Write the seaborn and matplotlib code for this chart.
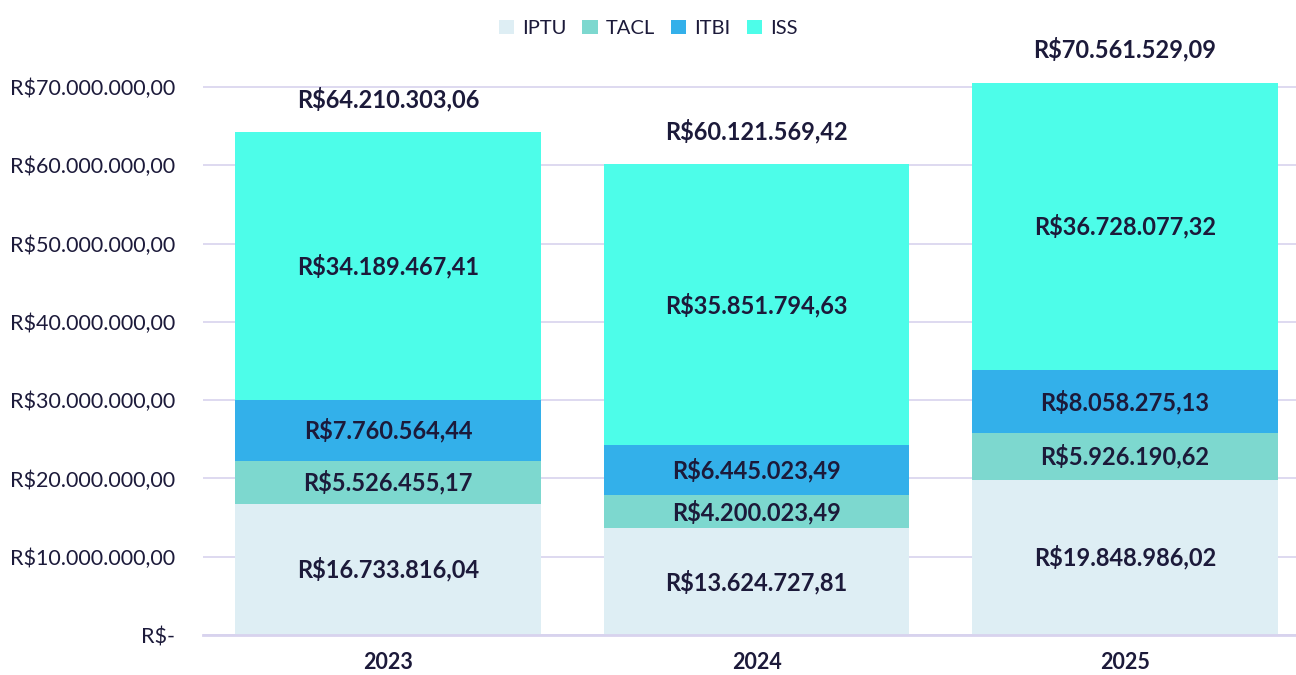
import numpy as np
import pandas as pd
import matplotlib
matplotlib.use("Agg")
import matplotlib.pyplot as plt
from matplotlib.patches import Patch
from matplotlib.ticker import FuncFormatter
import seaborn as sns

# --- Data ---
anos = ["2023", "2024", "2025"]
series = ["IPTU", "TACL", "ITBI", "ISS"]
iptu = [16733816.04, 13624727.81, 19848986.02]
tacl = [5526455.17, 4200023.49, 5926190.62]
itbi = [7760564.44, 6445023.49, 8058275.13]
iss = [34189467.41, 35851794.63, 36728077.32]
cores = ["#deeef4", "#7dd8cf", "#33b0ea", "#4dfde9"]

texto = "#1c1a3a"
grade = "#d8d3ee"


def brl(v):
    s = f"{v:,.2f}".replace(",", "X").replace(".", ",").replace("X", ".")
    return "R$" + s


def brl_eixo(v, pos):
    if v == 0:
        return "R$-"
    return brl(v)


sns.set_theme(style="white")
plt.rcParams["font.family"] = ["Lato", "DejaVu Sans"]

valores = np.array([iptu, tacl, itbi, iss])
acumulado = valores.cumsum(axis=0)

fig = plt.figure(figsize=(12.96, 6.75), dpi=100)
ax = fig.add_axes([203 / 1296, 40 / 675, 1 - 203 / 1296, 587.1 / 675])

# stacked bars: draw cumulative totals from the top layer down
for i in range(len(series) - 1, -1, -1):
    df = pd.DataFrame({"ano": anos, "valor": acumulado[i]})
    sns.barplot(data=df, x="ano", y="valor", color=cores[i], width=0.83,
                saturation=1, ax=ax, zorder=2, linewidth=0)

# segment labels
for i in range(len(series)):
    for j in range(len(anos)):
        meio = acumulado[i][j] - valores[i][j] / 2
        ax.text(j, meio, brl(valores[i][j]), ha="center", va="center",
                fontsize=17, fontweight="bold", color=texto, zorder=3)

# totals
for j in range(len(anos)):
    ax.annotate(brl(acumulado[-1][j]), (j, acumulado[-1][j]), xytext=(0, 24),
                textcoords="offset points", ha="center", va="center",
                fontsize=17, fontweight="bold", color=texto)

ax.set_xlim(-0.502, 2.464)
ax.set_ylim(0, 75000000)
ax.set_yticks(np.arange(0, 70000001, 10000000))
ax.yaxis.set_major_formatter(FuncFormatter(brl_eixo))
ax.grid(axis="y", color=grade, linewidth=1.2, zorder=0)
ax.set_axisbelow(True)
for s in ["top", "right", "left"]:
    ax.spines[s].set_visible(False)
ax.spines["bottom"].set_color(grade)
ax.spines["bottom"].set_linewidth(2)
ax.tick_params(axis="y", length=0, pad=20, labelsize=15.5, labelcolor=texto)
ax.tick_params(axis="x", length=0, pad=12, labelsize=15.5, labelcolor=texto)
for lbl in ax.get_xticklabels():
    lbl.set_fontweight("bold")
ax.set_xlabel("")
ax.set_ylabel("")

handles = [Patch(facecolor=c, edgecolor="none", label=s) for s, c in zip(series, cores)]
leg = fig.legend(handles=handles, loc="center", bbox_to_anchor=(0.5, 0.958), ncol=4,
                 frameon=False, fontsize=14.5, handlelength=0.75, handleheight=0.75,
                 handletextpad=0.4, columnspacing=0.8)
for t in leg.get_texts():
    t.set_color(texto)

fig.savefig("out.png", dpi=100)
